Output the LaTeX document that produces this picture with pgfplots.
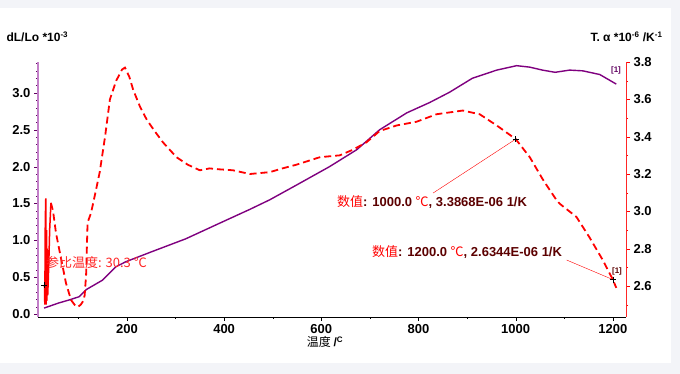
\documentclass[border=0pt]{standalone}
\usepackage{pgfplots}
\pgfplotsset{compat=1.18}
\usepackage{fontspec}
\setmainfont{Liberation Sans}
\newfontfamily\cjk{Noto Sans CJK SC}
\definecolor{purp}{HTML}{7F007F}
\definecolor{purpaxis}{HTML}{C27FC8}
\definecolor{ptick}{HTML}{600060}
\definecolor{numred}{HTML}{5C0000}
\definecolor{framegray}{HTML}{F3F4F8}
\begin{document}
\begin{tikzpicture}
\fill[framegray] (0pt,0pt) rectangle (680pt,374pt);
\fill[white] (0pt,11pt) rectangle (671pt,366pt);
\path[use as bounding box] (0pt,0pt) rectangle (680pt,374pt);
\pgfplotsset{
 common/.style={at={(38pt,57pt)}, anchor=south west, scale only axis,
   width=588pt, height=255pt, xmin=17, xmax=1227,
   tick align=outside, major tick length=4pt, minor tick length=2pt,
   tick label style={font=\bfseries\fontsize{13}{13}\selectfont},
   /pgf/number format/assume math mode=true}
}
\begin{axis}[common, ymin=-0.041, ymax=3.42,
  axis x line*=bottom, axis y line*=left,
  xtick={200,400,600,800,1000,1200}, minor xtick={100,300,500,700,900,1100},
  ytick={0,0.5,1.0,1.5,2.0,2.5,3.0},
  minor ytick={0.1,0.2,0.3,0.4,0.6,0.7,0.8,0.9,1.1,1.2,1.3,1.4,1.6,1.7,1.8,1.9,2.1,2.2,2.3,2.4,2.6,2.7,2.8,2.9,3.1,3.2,3.3,3.4},
  x axis line style={-, black, line width=0.8pt},
  y axis line style={-, purpaxis, line width=1.2pt},
  ytick style={ptick}, xtick style={black},
  yticklabel style={/pgf/number format/.cd, fixed, fixed zerofill, precision=1},
  xticklabel style={/pgf/number format/1000 sep={}}]
\addplot[purp, line width=1.4pt] coordinates {
(29.5,0.08) (60,0.15) (81,0.19) (102,0.235) (116,0.33) (150,0.46) (177,0.64)
(198,0.71) (253,0.85) (321,1.02) (400,1.26) (453,1.42) (494,1.55)
(549,1.75) (617,2.0) (673,2.23) (720,2.50) (776,2.73) (823,2.87) (864,3.01)
(911,3.20) (961,3.31) (1002,3.37) (1029,3.35) (1055,3.31) (1081,3.28)
(1111,3.31) (1138,3.30) (1173,3.25) (1207,3.12)};
\end{axis}
\begin{axis}[common, ymin=2.434, ymax=3.8,
  axis x line=none, axis y line*=right,
  ytick={2.6,2.8,3.0,3.2,3.4,3.6,3.8}, minor ytick={2.5,2.7,2.9,3.1,3.3,3.5,3.7},
  y axis line style={-, red!85, line width=1pt}, ytick style={red},
  yticklabel style={/pgf/number format/.cd, fixed, fixed zerofill, precision=1}]
\addplot[red, line width=1.5pt] coordinates {
(30.3,2.606) (31,2.50) (32,2.95) (33,3.07) (33.5,2.50) (34.5,2.9) (35,2.52)
(36,2.8) (37,2.55) (39,2.7) (41,2.9) (43.6,3.045)};
\addplot[red, line width=1.8pt, dash pattern=on 7pt off 4pt] coordinates {
(43.6,3.045) (48,3.0) (54,2.884) (65,2.74) (74.5,2.616) (85,2.525) (95,2.49)
(100,2.49) (105,2.50) (110,2.52) (113,2.55) (116,2.66) (119,2.94) (126,2.99)
(136,3.11) (144,3.21) (155,3.40) (165,3.60) (178,3.70) (190,3.76)
(196,3.77) (205,3.72) (213,3.65) (227,3.56) (241,3.49) (257,3.43) (274,3.37)
(302,3.29) (325,3.25) (350,3.22) (370,3.23) (390,3.225) (418,3.22) (453,3.20)
(494,3.21) (520,3.23) (549,3.25) (597,3.29) (638,3.30) (665,3.33) (693,3.37)
(720,3.43) (755,3.46) (796,3.48) (837,3.52) (864,3.53) (891,3.54) (926,3.52)
(961,3.46) (1000,3.387) (1029,3.29) (1056,3.17) (1084,3.06) (1091,3.04)
(1125,2.97) (1152,2.86) (1179,2.74) (1200,2.634) (1207,2.59)};
\addplot[red, thin] coordinates {(830,3.098) (1000,3.3868)};
\addplot[red, thin] coordinates {(1105,2.739) (1200,2.6344)};
\addplot[only marks, mark=+, mark size=3pt, black, thin] coordinates {(1000,3.3868) (1200,2.6344) (30.3,2.606)};
\end{axis}
\node[anchor=west, font=\bfseries\fontsize{12}{12}\selectfont] at (3pt,337pt) {dL/Lo *10\textsuperscript{-3}};
\node[anchor=east, font=\bfseries\fontsize{12}{12}\selectfont] at (666pt,337pt) {T. α *10\textsuperscript{-6} /K\textsuperscript{-1}};
\node at (325pt,32pt) {{\cjk\fontsize{12}{12}\selectfont 温度} {\bfseries\fontsize{12}{12}\selectfont /\textsuperscript{C}}};
\node[anchor=west, inner sep=0] at (337pt,172pt) {\fontsize{13}{13}\selectfont\textcolor{red}{\cjk 数值}\textcolor{numred}{\bfseries: 1000.0 }\textcolor{red}{\cjk ℃}\textcolor{numred}{\bfseries, 3.3868E-06 1/K}};
\node[anchor=west, inner sep=0] at (372pt,122pt) {\fontsize{13}{13}\selectfont\textcolor{red}{\cjk 数值}\textcolor{numred}{\bfseries: 1200.0 }\textcolor{red}{\cjk ℃}\textcolor{numred}{\bfseries, 2.6344E-06 1/K}};
\node[anchor=west, inner sep=0, text=red!85] at (46pt,111pt) {\cjk\fontsize{13}{13}\selectfont 参比温度: 30.3 ℃};
\node[font=\bfseries\fontsize{8}{8}\selectfont, text=ptick] at (616pt,304pt) {[1]};
\node[font=\bfseries\fontsize{8}{8}\selectfont, text=numred] at (617pt,103pt) {[1]};
\end{tikzpicture}
\end{document}
